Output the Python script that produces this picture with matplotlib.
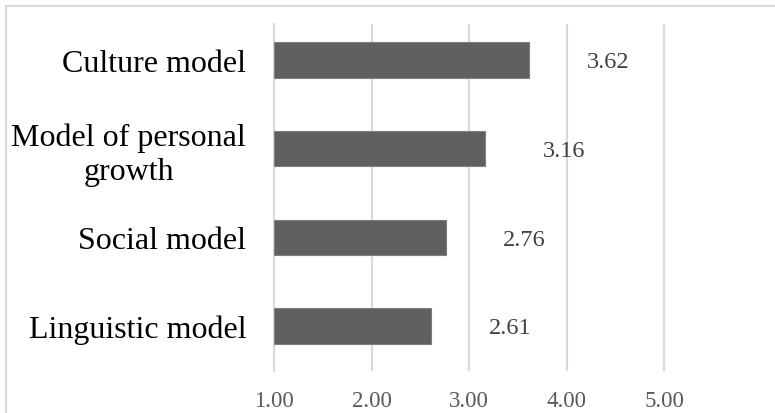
import matplotlib.pyplot as plt
from matplotlib.patches import Rectangle

# 各モデルの平均スコア
categories = ['Linguistic model', 'Social model', 'Model of personal\ngrowth', 'Culture model']
scores = [2.61, 2.76, 3.16, 3.62]
xticks = [1, 2, 3, 4, 5]
xtick_labels = ['1.00', '2.00', '3.00', '4.00', '5.00']

plt.rcParams['font.family'] = ['Liberation Serif', 'DejaVu Serif']

fig = plt.figure(figsize=(7.75, 4.14), dpi=100)
ax = fig.add_axes([274 / 775, 42.4 / 414, 470 / 775, 346.3 / 414])

# 外枠
fig.patches.append(Rectangle((6 / 775, -0.1), 1.2, (414 - 7) / 414 + 0.1,
                             transform=fig.transFigure, fill=False,
                             edgecolor='#d9d9d9', linewidth=1.5))

pos = range(len(categories))
ax.barh(pos, [s - 1 for s in scores], left=1, height=0.4,
        color='#606060', edgecolor='#7f7f7f', linewidth=0.8, zorder=3)

for y, s in zip(pos, scores):
    ax.text(s + 0.81, y - 0.02, f'{s:.2f}', ha='center', va='center',
            fontsize=17.5, color='#404040')

ax.set_xlim(1, 5.82)
ax.set_ylim(-0.5, 3.4)
ax.set_xticks(xticks)
ax.set_xticklabels(xtick_labels, fontsize=16.5, color='#595959')
ax.set_yticks(list(pos))
ax.set_yticklabels(categories, fontsize=23, color='black', multialignment='center')
ax.tick_params(axis='both', length=0)
ax.tick_params(axis='x', pad=14)
ax.tick_params(axis='y', pad=20)

ax.grid(axis='x', color='#d9d9d9', linewidth=1.5, zorder=0)
for side in ['top', 'right', 'bottom']:
    ax.spines[side].set_visible(False)
ax.spines['left'].set_color('#d9d9d9')
ax.spines['left'].set_linewidth(1.5)

plt.savefig('out.png', dpi=100)
